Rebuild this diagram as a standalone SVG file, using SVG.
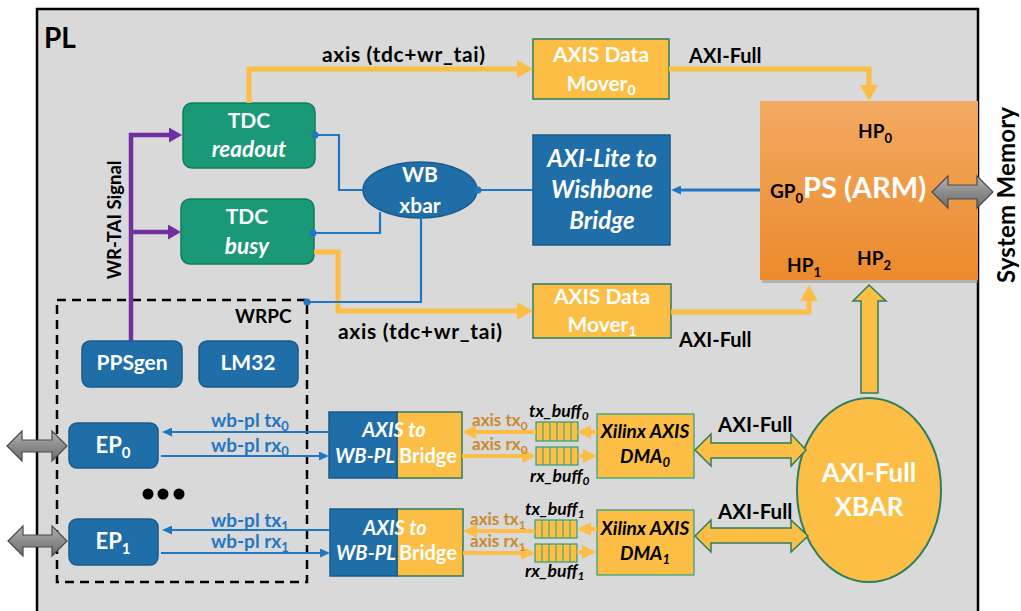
<svg xmlns="http://www.w3.org/2000/svg" width="1021" height="611" viewBox="0 0 1021 611">
<defs>
<style>
text{font-family:Lato,"Open Sans","Liberation Sans",sans-serif;font-weight:bold}
.w{fill:#fff}
.k{fill:#000}
.it{font-style:italic}
.mid{text-anchor:middle}
.teal{fill:#1a9977;stroke:#167a5f;stroke-width:1.5}
.blue{fill:#1f6ea8;stroke:#1a5a8a;stroke-width:1.5}
.yel{fill:#fcbe44;stroke:#2e7d5e;stroke-width:1.5}
.ybuf{fill:#fcbe44;stroke:#2aa07e;stroke-width:1.2}
.oc{fill:none;stroke:#fcbe44;stroke-width:5}
.ocs{fill:none;stroke:#fcbe44;stroke-width:4}
.bc{fill:none;stroke:#1f77c4;stroke-width:2.2}
.pc{fill:none;stroke:#7030a0;stroke-width:4.5}
.gray{fill:url(#gg);stroke:#4a4a4a;stroke-width:1.2}
.bl{fill:#1f77c4}
.ol{fill:#c98a2e}
</style>
<linearGradient id="psg" x1="0" y1="0" x2="0" y2="1">
<stop offset="0" stop-color="#f2aa62"/>
<stop offset="1" stop-color="#ec8a2c"/>
</linearGradient>
<linearGradient id="gg" x1="0" y1="0" x2="0" y2="1">
<stop offset="0" stop-color="#b5b5b5"/>
<stop offset="0.5" stop-color="#8c8c8c"/>
<stop offset="1" stop-color="#6e6e6e"/>
</linearGradient>
<marker id="oa" markerUnits="userSpaceOnUse" markerWidth="16" markerHeight="18" viewBox="0 0 16 18" refX="0" refY="9" orient="auto"><path d="M0,0 L16,9 L0,18 Z" fill="#fcbe44"/></marker>
<marker id="oas" markerUnits="userSpaceOnUse" markerWidth="14" markerHeight="14" viewBox="0 0 14 14" refX="0" refY="7" orient="auto"><path d="M0,0 L14,7 L0,14 Z" fill="#fcbe44"/></marker>
<marker id="ba" markerUnits="userSpaceOnUse" markerWidth="10" markerHeight="9" viewBox="0 0 10 9" refX="0" refY="4.5" orient="auto"><path d="M0,0 L10,4.5 L0,9 Z" fill="#1f77c4"/></marker>
<marker id="pa" markerUnits="userSpaceOnUse" markerWidth="13" markerHeight="15" viewBox="0 0 13 15" refX="0" refY="7.5" orient="auto"><path d="M0,0 L13,7.5 L0,15 Z" fill="#7030a0"/></marker>
</defs>

<g id="pl-frame">
<rect x="37" y="9" width="941" height="612" fill="#d9d9d9" stroke="#000" stroke-width="2.5"/>
<text x="44" y="48" font-size="28" class="k">PL</text>
</g>

<g id="wrpc">
<rect x="57" y="300" width="250" height="282" fill="none" stroke="#000" stroke-width="2.5" stroke-dasharray="9 6"/>
<text x="235" y="323" font-size="19" class="k">WRPC</text>
</g>

<g id="tdc-readout">
<rect class="teal" x="183" y="103" width="132" height="65" rx="9"/>
<text x="249" y="128" font-size="21" class="w mid">TDC</text>
<text x="249" y="157" font-size="22.5" class="w mid it">readout</text>
</g>

<g id="tdc-busy">
<rect class="teal" x="181" y="199" width="133" height="65" rx="9"/>
<text x="247" y="224" font-size="21" class="w mid">TDC</text>
<text x="247" y="254" font-size="22.5" class="w mid it">busy</text>
</g>

<g id="wb-xbar">
<ellipse class="blue" cx="420" cy="190" rx="57" ry="28"/>
<text x="420" y="182" font-size="21" class="w mid">WB</text>
<text x="420" y="213" font-size="21" class="w mid">xbar</text>
</g>

<g id="axi-lite-bridge">
<rect class="blue" x="533" y="135" width="137" height="110"/>
<text x="602" y="167" font-size="24" class="w mid it">AXI-Lite to</text>
<text x="602" y="198" font-size="24" class="w mid it">Wishbone</text>
<text x="602" y="229" font-size="24" class="w mid it">Bridge</text>
</g>

<g id="data-mover-0">
<rect class="yel" x="533" y="39" width="136" height="60"/>
<text x="601" y="62" font-size="21" class="w mid">AXIS Data</text>
<text x="601" y="91" font-size="21" class="w mid">Mover<tspan font-size="14" dy="4">0</tspan></text>
</g>

<g id="data-mover-1">
<rect class="yel" x="533" y="284" width="138" height="54"/>
<text x="602" y="304" font-size="21" class="w mid">AXIS Data</text>
<text x="602" y="332" font-size="21" class="w mid">Mover<tspan font-size="14" dy="4">1</tspan></text>
</g>

<g id="ps-arm">
<rect x="762" y="104" width="216" height="179" fill="#9a9a9a" opacity="0.6"/>
<rect x="760" y="101" width="218" height="179" fill="url(#psg)"/>
<text x="858" y="138" font-size="19" class="k">HP<tspan font-size="13" dy="5">0</tspan></text>
<text x="770" y="198" font-size="19" class="k">GP<tspan font-size="13" dy="5">0</tspan><tspan dy="-5" font-size="29" class="w">PS (ARM)</tspan></text>
<text x="787" y="272" font-size="19" class="k">HP<tspan font-size="13" dy="5">1</tspan></text>
<text x="857" y="265" font-size="19" class="k">HP<tspan font-size="13" dy="5">2</tspan></text>
</g>

<g id="ppsgen">
<rect class="blue" x="82" y="341" width="100" height="46" rx="8"/>
<text x="132" y="370" font-size="21" class="w mid">PPSgen</text>
</g>

<g id="lm32">
<rect class="blue" x="199" y="341" width="99" height="46" rx="8"/>
<text x="248" y="370" font-size="21" class="w mid">LM32</text>
</g>

<g id="ep0">
<rect class="blue" x="69" y="423" width="89" height="45" rx="8"/>
<text x="113" y="453" font-size="22" class="w mid">EP<tspan font-size="15" dy="5">0</tspan></text>
</g>

<g id="ep1">
<rect class="blue" x="69" y="519" width="89" height="46" rx="8"/>
<text x="113" y="549" font-size="22" class="w mid">EP<tspan font-size="15" dy="5">1</tspan></text>
</g>

<g id="ellipsis">
<circle cx="148" cy="494" r="5.5" fill="#000"/>
<circle cx="163" cy="494" r="5.5" fill="#000"/>
<circle cx="179" cy="494" r="5.5" fill="#000"/>
</g>

<g id="bridge-0">
<rect x="397" y="412" width="65" height="66" fill="#fcbe44" stroke="#2e7d5e" stroke-width="1.5"/>
<rect x="329" y="412" width="68" height="66" fill="#1f6ea8" stroke="#1a5a8a" stroke-width="1.5"/>
<text x="394" y="437" font-size="20" class="w mid it">AXIS to</text>
<text x="335" y="463" font-size="20" class="w it">WB-PL</text>
<text x="399" y="463" font-size="20" class="w">Bridge</text>
</g>

<g id="bridge-1">
<rect x="397" y="509" width="66" height="67" fill="#fcbe44" stroke="#2e7d5e" stroke-width="1.5"/>
<rect x="330" y="509" width="67" height="67" fill="#1f6ea8" stroke="#1a5a8a" stroke-width="1.5"/>
<text x="395" y="535" font-size="20" class="w mid it">AXIS to</text>
<text x="336" y="560" font-size="20" class="w it">WB-PL</text>
<text x="399" y="560" font-size="20" class="w">Bridge</text>
</g>

<g id="tx-buff-0">
<rect class="ybuf" x="536" y="422" width="42" height="19"/>
<path d="M543,422V441M550,422V441M557,422V441M564,422V441M571,422V441" stroke="#2aa07e" stroke-width="1"/>
<text x="529" y="417" font-size="17.5" class="k it">tx_buff<tspan font-size="12" dy="3">0</tspan></text>
</g>
<g id="rx-buff-0">
<rect class="ybuf" x="536" y="447" width="42" height="18"/>
<path d="M543,447V465M550,447V465M557,447V465M564,447V465M571,447V465" stroke="#2aa07e" stroke-width="1"/>
<text x="530" y="482" font-size="17.5" class="k it">rx_buff<tspan font-size="12" dy="3">0</tspan></text>
</g>
<g id="tx-buff-1">
<rect class="ybuf" x="535" y="520" width="42" height="18"/>
<path d="M542,520V538M549,520V538M556,520V538M563,520V538M570,520V538" stroke="#2aa07e" stroke-width="1"/>
<text x="525" y="515" font-size="17.5" class="k it">tx_buff<tspan font-size="12" dy="3">1</tspan></text>
</g>
<g id="rx-buff-1">
<rect class="ybuf" x="535" y="544" width="42" height="18"/>
<path d="M542,544V562M549,544V562M556,544V562M563,544V562M570,544V562" stroke="#2aa07e" stroke-width="1"/>
<text x="525" y="577" font-size="17.5" class="k it">rx_buff<tspan font-size="12" dy="3">1</tspan></text>
</g>

<g id="dma-0">
<rect class="ybuf" x="597" y="414" width="97" height="64"/>
<text x="645" y="438" font-size="19" class="k mid it">Xilinx AXIS</text>
<text x="645" y="463" font-size="19" class="k mid it">DMA<tspan font-size="13" dy="4">0</tspan></text>
</g>

<g id="dma-1">
<rect class="ybuf" x="597" y="510" width="97" height="65"/>
<text x="645" y="535" font-size="19" class="k mid it">Xilinx AXIS</text>
<text x="645" y="560" font-size="19" class="k mid it">DMA<tspan font-size="13" dy="4">1</tspan></text>
</g>

<g id="axi-full-xbar">
<ellipse cx="869" cy="490" rx="72" ry="92" fill="#fcbe44" stroke="#2e7d5e" stroke-width="2"/>
<text x="869" y="482" font-size="26" class="w mid">AXI-Full</text>
<text x="869" y="516" font-size="26" class="w mid">XBAR</text>
</g>

<g id="connectors">
<!-- purple WR-TAI -->
<path class="pc" d="M131,341 V135 H169" marker-end="url(#pa)"/>
<path class="pc" d="M131,232 H168" marker-end="url(#pa)"/>
<!-- orange axis streams -->
<path class="oc" d="M249,103 V69 H517" marker-end="url(#oa)"/>
<path class="oc" d="M669,69 H869 V85" marker-end="url(#oa)"/>
<path class="oc" d="M314,252 H338 V311 H517" marker-end="url(#oa)"/>
<path class="oc" d="M671,312 H809 V301" marker-end="url(#oa)"/>
<!-- blue wishbone -->
<path class="bc" d="M315,135 H339 V190 H363"/>
<path class="bc" d="M313,233 H380 V212"/>
<path class="bc" d="M307,302 H421 V217"/>
<path class="bc" d="M478,190 H533"/>
<path fill="none" stroke="#1f77c4" stroke-width="3" d="M760,190 H681" marker-end="url(#ba)"/>
<circle cx="315" cy="135" r="3.5" class="bl"/>
<circle cx="313" cy="233" r="3.5" class="bl"/>
<circle cx="307" cy="302" r="3.5" class="bl"/>
<circle cx="478" cy="190" r="3.5" class="bl"/>
<!-- wb-pl -->
<path class="bc" d="M329,432 H172" marker-end="url(#ba)"/>
<path class="bc" d="M161,456 H319" marker-end="url(#ba)"/>
<path class="bc" d="M330,530 H172" marker-end="url(#ba)"/>
<path class="bc" d="M161,553 H320" marker-end="url(#ba)"/>
<!-- axis tx/rx -->
<path class="ocs" d="M536,432 H476" marker-end="url(#oas)"/>
<path class="ocs" d="M462,456 H522" marker-end="url(#oas)"/>
<path class="ocs" d="M535,531 H477" marker-end="url(#oas)"/>
<path class="ocs" d="M463,553 H521" marker-end="url(#oas)"/>
<!-- DMA to buffers -->
<path class="ocs" d="M597,432 H591" marker-end="url(#oas)"/>
<path class="ocs" d="M578,456 H583" marker-end="url(#oas)"/>
<path class="ocs" d="M597,529 H591" marker-end="url(#oas)"/>
<path class="ocs" d="M577,552 H582" marker-end="url(#oas)"/>
<!-- AXI-Full block arrows -->
<polygon class="yel" points="695,450 711,434 711,443 791,443 791,434 806,450 791,466 791,458 711,458 711,466"/>
<polygon class="yel" points="695,536 711,520 711,528 791,528 791,520 808,536 791,552 791,543 711,543 711,552"/>
<polygon class="yel" stroke-width="2" points="861,393 861,301 853,301 869,285 886,301 878,301 878,393"/>
<!-- gray I/O arrows -->
<polygon class="gray" points="932,192 948,176 948,185 977,185 977,176 993,192 977,208 977,199 948,199 948,208"/>
<polygon class="gray" points="7,446 22,431 22,440 52,440 52,431 67,446 52,461 52,452 22,452 22,461"/>
<polygon class="gray" points="8,541 23,526 23,535 52,535 52,526 67,541 52,556 52,547 23,547 23,556"/>
<!-- connector labels -->
<text x="322" y="62" font-size="21" class="k" textLength="163">axis (tdc+wr_tai)</text>
<text x="338" y="339" font-size="21" class="k" textLength="164">axis (tdc+wr_tai)</text>
<text x="689" y="63" font-size="20" class="k">AXI-Full</text>
<text x="679" y="347" font-size="20" class="k">AXI-Full</text>
<text x="718" y="432" font-size="20.5" class="k">AXI-Full</text>
<text x="718" y="519" font-size="20.5" class="k">AXI-Full</text>
<text transform="translate(121,220) rotate(-90)" font-size="18.5" class="k mid">WR-TAI Signal</text>
<text transform="translate(1015,195) rotate(-90)" font-size="24" class="k mid" textLength="176">System Memory</text>
<text x="211" y="427" font-size="19" class="bl">wb-pl tx<tspan font-size="13" dy="4">0</tspan></text>
<text x="211" y="452" font-size="19" class="bl">wb-pl rx<tspan font-size="13" dy="4">0</tspan></text>
<text x="211" y="527" font-size="19" class="bl">wb-pl tx<tspan font-size="13" dy="4">1</tspan></text>
<text x="211" y="548" font-size="19" class="bl">wb-pl rx<tspan font-size="13" dy="4">1</tspan></text>
<text x="472" y="426" font-size="17" class="ol">axis tx<tspan font-size="12" dy="4">0</tspan></text>
<text x="472" y="450" font-size="17" class="ol">axis rx<tspan font-size="12" dy="4">0</tspan></text>
<text x="470" y="525" font-size="17" class="ol">axis tx<tspan font-size="12" dy="4">1</tspan></text>
<text x="470" y="547" font-size="17" class="ol">axis rx<tspan font-size="12" dy="4">1</tspan></text>
</g>
</svg>
